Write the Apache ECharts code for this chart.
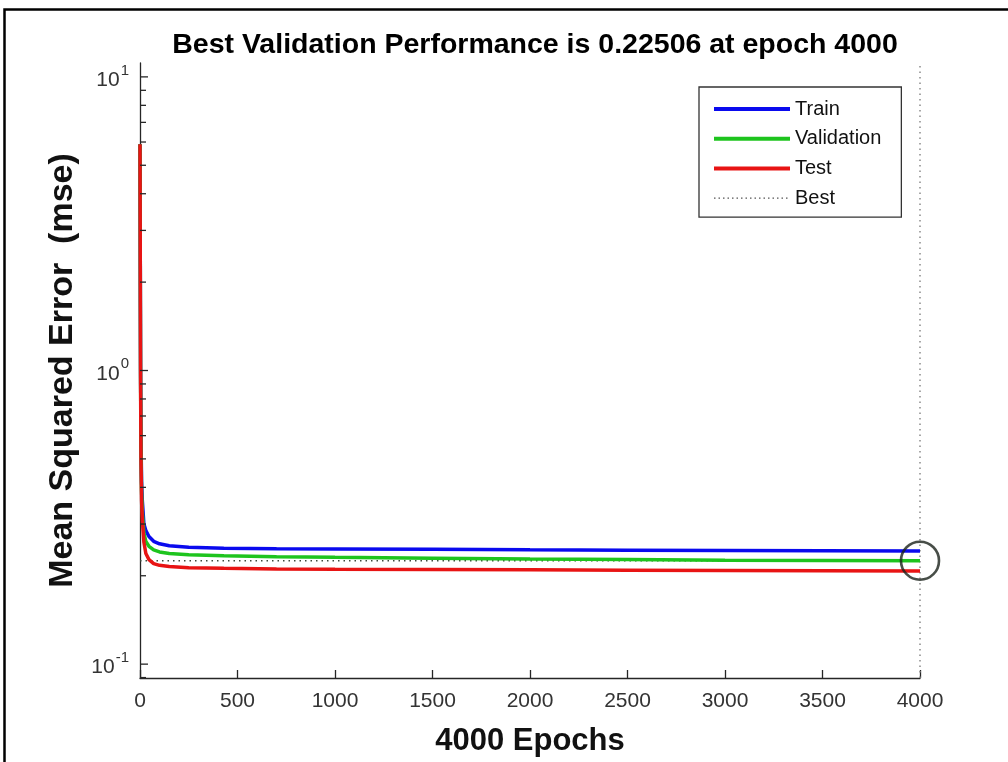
<!DOCTYPE html>
<html>
<head>
<meta charset="utf-8">
<title>Best Validation Performance</title>
<script src="https://cdn.jsdelivr.net/npm/echarts@6/dist/echarts.min.js"></script>
<style>
  html, body { margin: 0; padding: 0; background: #ffffff; }
  #chart { width: 1008px; height: 762px; }
</style>
</head>
<body>
<div id="chart"></div>
<script>
// Training record: mean squared error per epoch for each data split
const epochs = [0, 1, 2, 3, 5, 8, 12, 20, 30, 46, 70, 100, 150, 250, 430, 700, 1000, 1500, 2000, 2500, 3000, 3500, 4000];
const trainMse = [5.9, 3.3, 1.7, 1.0, 0.6, 0.42, 0.36, 0.30, 0.285, 0.272, 0.262, 0.257, 0.253, 0.250, 0.248, 0.247, 0.2465, 0.246, 0.245, 0.2445, 0.244, 0.2435, 0.243];
const validationMse = [5.9, 3.25, 1.65, 0.95, 0.55, 0.39, 0.33, 0.28, 0.262, 0.252, 0.245, 0.241, 0.238, 0.236, 0.234, 0.232, 0.231, 0.2295, 0.228, 0.227, 0.226, 0.2255, 0.22506];
const testMse = [5.9, 3.2, 1.6, 0.9, 0.5, 0.36, 0.31, 0.26, 0.238, 0.227, 0.220, 0.217, 0.215, 0.213, 0.212, 0.211, 0.2105, 0.210, 0.2095, 0.209, 0.2085, 0.208, 0.2075];

const bestEpoch = 4000;
const bestPerf = 0.22506;

const seriesNames = ['Train', 'Validation', 'Test', 'Best'];
const yLimits = [0.0897, 11.15];
const yDecades = [0.1, 1, 10];
const yMinorMultipliers = [2, 3, 4, 5, 6, 7, 8, 9];

const colors = { Train: '#0a0aee', Validation: '#1ec41e', Test: '#e81414', Best: '#555555' };
const axisColor = '#262626';
const fontFamily = 'Liberation Sans, Arial, Helvetica, sans-serif';

function pairs(xs, ys) { return xs.map((x, i) => [x, ys[i]]); }

// Log-scale ticks: decades are major, 2..9 multiples are minor
const yTickValues = [];
yDecades.forEach(d => {
  yTickValues.push([0, d, 1]);
  yMinorMultipliers.forEach(m => {
    const v = d * m;
    if (v > yLimits[0] && v < yLimits[1]) yTickValues.push([0, v, 0]);
  });
});
if (0.09 > yLimits[0]) yTickValues.push([0, 0.09, 0]);

const chart = echarts.init(document.getElementById('chart'), null, { renderer: 'canvas' });

chart.setOption({
  animation: false,
  backgroundColor: '#ffffff',
  textStyle: { fontFamily: fontFamily },
  title: {
    text: 'Best Validation Performance is 0.22506 at epoch 4000',
    left: 530,
    textAlign: 'center',
    top: 26,
    textStyle: { fontSize: 28.5, fontWeight: 'bold', color: '#000', fontFamily: fontFamily }
  },
  graphic: [{
    type: 'rect',
    shape: { x: 4.5, y: 9.5, width: 1010, height: 770 },
    style: { fill: 'none', stroke: '#000', lineWidth: 2.5 },
    silent: true
  }],
  legend: {
    data: seriesNames.map(n => ({
      name: n,
      lineStyle: n === 'Best'
        ? { color: colors[n], width: 1.3, type: [1.5, 3] }
        : { color: colors[n], width: 4 }
    })),
    orient: 'vertical',
    left: 699,
    top: 87,
    padding: [11, 20, 8, 13],
    itemWidth: 76,
    itemHeight: 14,
    itemGap: 7.7,
    itemStyle: { opacity: 0 },
    backgroundColor: '#fff',
    borderColor: '#333',
    borderWidth: 1.3,
    textStyle: { fontSize: 20, lineHeight: 22, color: '#111', fontFamily: fontFamily },
    selectedMode: false
  },
  grid: { left: 140, right: 88, top: 63, bottom: 81, containLabel: false },
  xAxis: {
    type: 'value',
    min: 0,
    max: 4000,
    interval: 500,
    name: '4000 Epochs',
    nameLocation: 'middle',
    nameGap: 48,
    nameTextStyle: { fontSize: 31, fontWeight: 'bold', color: '#111', fontFamily: fontFamily },
    axisLine: { show: true, onZero: false, lineStyle: { color: axisColor, width: 1.3 } },
    axisTick: { show: true, inside: true, length: 8, lineStyle: { color: axisColor, width: 1.3 } },
    axisLabel: { fontSize: 21, color: '#333', margin: 13, fontFamily: fontFamily, formatter: v => String(v) },
    splitLine: { show: false }
  },
  yAxis: {
    type: 'log',
    logBase: 10,
    min: yLimits[0],
    max: yLimits[1],
    name: 'Mean Squared Error  (mse)',
    nameLocation: 'middle',
    nameGap: 60,
    nameTextStyle: { fontSize: 34, fontWeight: 'bold', color: '#111', fontFamily: fontFamily },
    axisLine: { show: true, lineStyle: { color: axisColor, width: 1.3 } },
    axisTick: { show: false },
    splitLine: { show: false },
    axisLabel: {
      margin: 11,
      color: '#333',
      formatter: function (v) {
        const e = Math.log10(v);
        const r = Math.round(e);
        if (Math.abs(e - r) > 1e-6) return '';
        return '{b|10}{s|' + (r < 0 ? '-' : '') + Math.abs(r) + '}';
      },
      rich: {
        b: { fontSize: 21, lineHeight: 28, verticalAlign: 'bottom', color: '#333', fontFamily: fontFamily },
        s: { fontSize: 15, lineHeight: 16, verticalAlign: 'top', color: '#333', fontFamily: fontFamily, padding: [0, 0, 0, 1] }
      }
    }
  },
  series: [
    {
      name: 'Train', type: 'line', data: pairs(epochs, trainMse),
      showSymbol: false, symbol: 'none', z: 3,
      lineStyle: { color: colors.Train, width: 3.5 }, itemStyle: { color: colors.Train }
    },
    {
      name: 'Validation', type: 'line', data: pairs(epochs, validationMse),
      showSymbol: false, symbol: 'none', z: 4,
      lineStyle: { color: colors.Validation, width: 3.5 }, itemStyle: { color: colors.Validation }
    },
    {
      name: 'Test', type: 'line', data: pairs(epochs, testMse),
      showSymbol: false, symbol: 'none', z: 5,
      lineStyle: { color: colors.Test, width: 3.5 }, itemStyle: { color: colors.Test }
    },
    {
      // horizontal guide at the best validation value
      name: 'Best', type: 'line', data: [[0, bestPerf], [bestEpoch, bestPerf]],
      showSymbol: false, symbol: 'none', z: 2,
      lineStyle: { color: '#3c4a3c', width: 1.6, type: [1.5, 4] }, itemStyle: { color: colors.Best }
    },
    {
      // vertical guide at the best epoch
      name: 'bestEpochLine', type: 'line', data: [[bestEpoch, yLimits[0]], [bestEpoch, yLimits[1]]],
      showSymbol: false, symbol: 'none', z: 2,
      lineStyle: { color: '#8a8a8a', width: 1.5, type: [1.5, 4] }
    },
    {
      // marker ring around the best validation point
      name: 'bestPoint', type: 'scatter', data: [[bestEpoch, bestPerf]],
      symbol: 'circle', symbolSize: 38, z: 6,
      itemStyle: { color: 'rgba(0,0,0,0)', borderColor: '#1a221a', borderWidth: 2.6 }
    },
    {
      // inward ticks on the log axis
      name: 'yTicks', type: 'custom', data: yTickValues, z: 7, silent: true,
      renderItem: function (params, api) {
        const p = api.coord([api.value(0), api.value(1)]);
        const len = api.value(2) ? 8 : 6;
        return {
          type: 'line',
          shape: { x1: p[0], y1: p[1], x2: p[0] + len, y2: p[1] },
          style: { stroke: axisColor, lineWidth: 1.3 }
        };
      }
    }
  ]
});
</script>
</body>
</html>
